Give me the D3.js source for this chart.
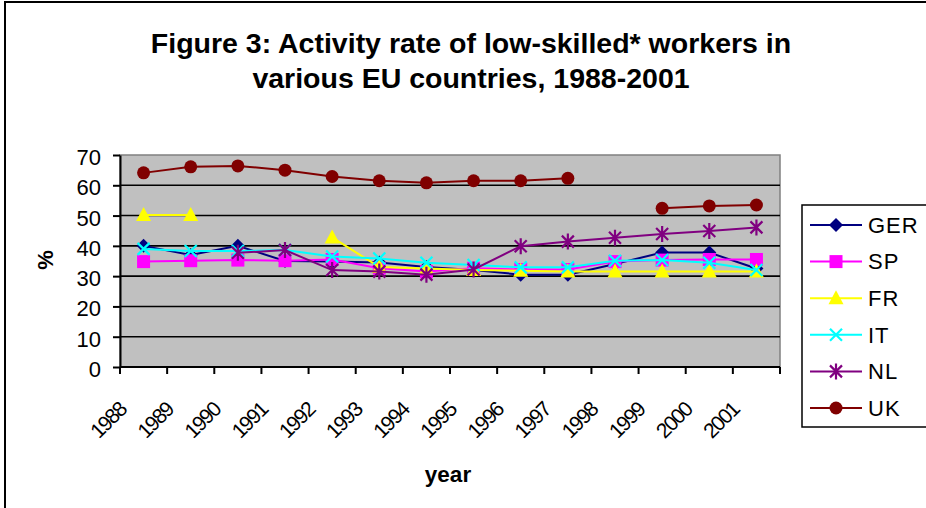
<!DOCTYPE html>
<html>
<head>
<meta charset="utf-8">
<script src="https://cdn.jsdelivr.net/npm/d3@7"></script>
<style>
  html, body { margin: 0; padding: 0; background: #fff; }
  svg { display: block; font-family: Arial, "Liberation Sans", sans-serif; }
</style>
</head>
<body>
<svg id="chart" width="926" height="508"></svg>
<script>
// Activity rate (%) of low-skilled workers, 1988-2001; null = no observation
const years = [1988, 1989, 1990, 1991, 1992, 1993, 1994, 1995, 1996, 1997, 1998, 1999, 2000, 2001];
const GER = [40, 37, 40, 35, 34.8, 34.5, 33, 32, 30.5, 30.5, 34, 37.8, 37.8, 32.5];
const SP  = [34.8, 35.1, 35.3, 35.1, 35.5, 32.6, 31.5, 32.6, 32.2, 32.2, 34.8, 35.3, 35.5, 35.5];
const FR  = [50.2, 50.2, null, null, 42.8, 33, 32.5, 32, 31.8, 31.5, 31.5, 31.5, 31.5, 31.5];
const IT  = [39, 38.3, 38.3, 38.6, 36.5, 35.8, 34.4, 33.7, 32.9, 32.9, 35.1, 35.3, 34.4, 32];
const NL  = [null, null, 37.7, 38.6, 32, 31.5, 30.5, 32.2, 39.9, 41.4, 42.7, 43.9, 44.9, 46.1];
const UK  = [64.1, 66.1, 66.4, 65.0, 62.9, 61.5, 60.8, 61.5, 61.5, 62.3, null, 52.4, 53.2, 53.5];
const yTicks = [0, 10, 20, 30, 40, 50, 60, 70];

const seriesNames  = ["GER", "SP", "FR", "IT", "NL", "UK"];
const seriesValues = [GER, SP, FR, IT, NL, UK];
const seriesColors = ["#000080", "#FF00FF", "#FFFF00", "#00FFFF", "#800080", "#800000"];
const seriesShapes = ["diamond", "square", "triangle", "x", "star", "circle"];

const svg = d3.select("#chart");

// outer chart frame
svg.append("rect")
  .attr("x", 5).attr("y", 2).attr("width", 960).attr("height", 540)
  .attr("fill", "#fff").attr("stroke", "#000").attr("stroke-width", 2);

const plot = { left: 120, right: 780, top: 155, bottom: 367 };

const x = d3.scaleBand().domain(years).range([plot.left, plot.right]);
const y = d3.scaleLinear().domain([0, 70]).range([plot.bottom, plot.top]);
const cx = yr => x(yr) + x.bandwidth() / 2;

// plot background
svg.append("rect")
  .attr("x", plot.left).attr("y", plot.top)
  .attr("width", plot.right - plot.left).attr("height", plot.bottom - plot.top)
  .attr("fill", "#C0C0C0").attr("stroke", "#808080").attr("stroke-width", 1.5);

// horizontal gridlines
svg.append("g").selectAll("line")
  .data(yTicks.filter(t => t > 0 && t < 70))
  .join("line")
  .attr("x1", plot.left).attr("x2", plot.right)
  .attr("y1", d => y(d)).attr("y2", d => y(d))
  .attr("stroke", "#000").attr("stroke-width", 1.6);

// y axis
const yAxis = svg.append("g")
  .attr("transform", `translate(${plot.left},0)`)
  .call(d3.axisLeft(y).tickValues(yTicks).tickSize(7).tickPadding(12).tickSizeOuter(0));
yAxis.select(".domain").attr("stroke", "#000").attr("stroke-width", 2);
yAxis.selectAll(".tick line").attr("stroke", "#000").attr("stroke-width", 2);
yAxis.selectAll(".tick text")
  .attr("font-size", 22).attr("font-family", "Arial, 'Liberation Sans', sans-serif")
  .attr("fill", "#000").attr("dy", "0.43em");

// x axis: ticks sit on category boundaries
const xAxis = svg.append("g");
xAxis.append("line")
  .attr("x1", plot.left).attr("x2", plot.right)
  .attr("y1", plot.bottom).attr("y2", plot.bottom)
  .attr("stroke", "#000").attr("stroke-width", 2);
xAxis.selectAll("line.tick")
  .data(years.map(yr => x(yr)).concat([x.range()[1]]))
  .join("line").attr("class", "tick")
  .attr("x1", d => d).attr("x2", d => d)
  .attr("y1", plot.bottom).attr("y2", plot.bottom + 7)
  .attr("stroke", "#000").attr("stroke-width", 2);
xAxis.selectAll("text")
  .data(years)
  .join("text")
  .attr("transform", d => `translate(${cx(d) - 16},${plot.bottom + 44}) rotate(-45)`)
  .attr("text-anchor", "end")
  .attr("font-size", 21)
  .attr("letter-spacing", -1.6)
  .attr("fill", "#000")
  .text(d => d);

// axis titles
svg.append("text")
  .attr("x", 448).attr("y", 482)
  .attr("text-anchor", "middle").attr("font-size", 22.5).attr("font-weight", "bold")
  .text("year");
svg.append("text")
  .attr("transform", "translate(53,260) rotate(-90)")
  .attr("text-anchor", "middle").attr("font-size", 22).attr("font-weight", "bold")
  .text("%");

// title
const title = svg.append("text")
  .attr("text-anchor", "middle").attr("font-size", 28.5).attr("font-weight", "bold");
title.append("tspan").attr("x", 471).attr("y", 53)
  .text("Figure 3: Activity rate of low-skilled* workers in");
title.append("tspan").attr("x", 471).attr("y", 88)
  .text("various EU countries, 1988-2001");

// marker drawing
function drawMarker(g, shape, color) {
  if (shape === "diamond") {
    g.append("path").attr("d", "M0,-7L7,0L0,7L-7,0Z").attr("fill", color);
  } else if (shape === "square") {
    g.append("rect").attr("x", -6.5).attr("y", -6.5).attr("width", 13).attr("height", 13).attr("fill", color);
  } else if (shape === "triangle") {
    g.append("path").attr("d", "M0,-8L7.5,6L-7.5,6Z").attr("fill", color);
  } else if (shape === "x") {
    g.append("path").attr("d", "M-6,-6L6,6M-6,6L6,-6")
      .attr("stroke", color).attr("stroke-width", 2.2).attr("fill", "none");
  } else if (shape === "star") {
    g.append("path").attr("d", "M-6,-6L6,6M-6,6L6,-6M0,-8L0,8")
      .attr("stroke", color).attr("stroke-width", 2.2).attr("fill", "none");
  } else if (shape === "circle") {
    g.append("circle").attr("r", 6.5).attr("fill", color);
  }
}

const line = d3.line()
  .defined(d => d.v !== null)
  .x(d => cx(d.year))
  .y(d => y(d.v));

seriesNames.forEach((name, i) => {
  const pts = years.map((yr, j) => ({ year: yr, v: seriesValues[i][j] }));
  const g = svg.append("g").attr("class", "series-" + name);
  g.append("path")
    .datum(pts)
    .attr("d", line)
    .attr("fill", "none")
    .attr("stroke", seriesColors[i])
    .attr("stroke-width", 2);
  g.selectAll("g.pt")
    .data(pts.filter(d => d.v !== null))
    .join("g").attr("class", "pt")
    .attr("transform", d => `translate(${cx(d.year)},${y(d.v)})`)
    .each(function () { drawMarker(d3.select(this), seriesShapes[i], seriesColors[i]); });
});

// legend
const legend = svg.append("g");
legend.append("rect")
  .attr("x", 802).attr("y", 205).attr("width", 140).attr("height", 222)
  .attr("fill", "#fff").attr("stroke", "#000").attr("stroke-width", 1.5);
const ly = d3.scalePoint().domain(seriesNames).range([225, 408]);
seriesNames.forEach((name, i) => {
  const row = legend.append("g").attr("transform", `translate(0,${ly(name)})`);
  row.append("line").attr("x1", 810).attr("x2", 862)
    .attr("stroke", seriesColors[i]).attr("stroke-width", 2);
  const m = row.append("g").attr("transform", "translate(836,0)");
  drawMarker(m, seriesShapes[i], seriesColors[i]);
  row.append("text").attr("x", 868).attr("dy", "0.358em")
    .attr("font-size", 22).attr("letter-spacing", 1).text(name);
});
</script>
</body>
</html>
